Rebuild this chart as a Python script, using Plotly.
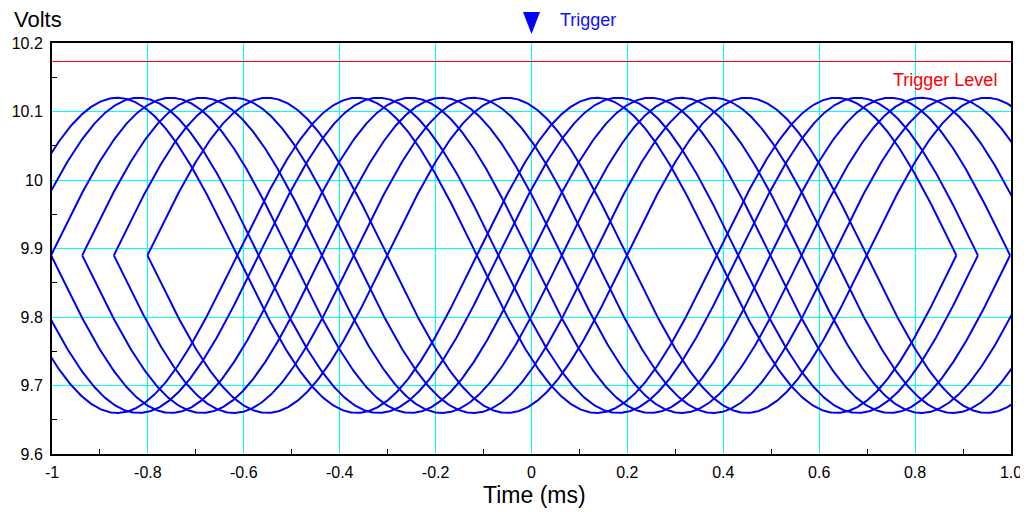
import numpy as np
import plotly.graph_objects as go

# ---- values ----
# start time (ms) of each sweep: every sweep starts on a zero crossing of the signal
sweep_start_ms = [-1.114, -1.069, -1.002, -0.937, -0.871, -0.801]
sweep_length_ms = 2.0
signal_period_ms = 1.0
signal_center_v = 9.89
signal_amplitude_v = 0.23
sweep_polarity = [1, -1]          # each sweep appears with both slopes

trigger_time_ms = 0.0
trigger_level_v = 10.173

x_tick_vals = [-1, -0.8, -0.6, -0.4, -0.2, 0, 0.2, 0.4, 0.6, 0.8, 1.0]
x_tick_text = ["-1", "-0.8", "-0.6", "-0.4", "-0.2", "0", "0.2", "0.4", "0.6", "0.8", "1.0"]
x_minor_vals = [-0.9, -0.7, -0.5, -0.3, -0.1, 0.1, 0.3, 0.5, 0.7, 0.9]
y_tick_vals = [9.6, 9.7, 9.8, 9.9, 10.0, 10.1, 10.2]
y_tick_text = ["9.6", "9.7", "9.8", "9.9", "10", "10.1", "10.2"]
y_minor_vals = [9.65, 9.75, 9.85, 9.95, 10.05, 10.15]

FONT = "Liberation Sans, Arial, Helvetica, sans-serif"
BLUE = "#0000f0"

fig = go.Figure()

for t0 in sweep_start_ms:
    t = np.linspace(t0, t0 + sweep_length_ms, 801)
    for pol in sweep_polarity:
        v = signal_center_v + pol * signal_amplitude_v * np.sin(2 * np.pi * (t - t0) / signal_period_ms)
        fig.add_trace(go.Scatter(x=t, y=v, mode="lines",
                                 line=dict(color=BLUE, width=2),
                                 showlegend=False, hoverinfo="skip"))

# trigger level line
fig.add_shape(type="line", xref="paper", x0=0, x1=1, yref="y",
              y0=trigger_level_v, y1=trigger_level_v,
              line=dict(color="#ff0000", width=1))

# trigger marker (downward triangle above the plot at trigger time)
fig.add_shape(type="path", xref="x", xsizemode="pixel", xanchor=trigger_time_ms,
              yref="paper", ysizemode="pixel", yanchor=1,
              path="M -8.5,31 L 8.5,31 L 0,9 Z",
              fillcolor="#0000ff", line=dict(width=0))

fig.add_annotation(text="Trigger", x=trigger_time_ms, xref="x", xanchor="left", xshift=26,
                   y=1, yref="paper", yanchor="middle", yshift=23, showarrow=False,
                   font=dict(family=FONT, size=18, color="#1010ff"))
fig.add_annotation(text="Trigger Level", x=1, xref="paper", xanchor="right", xshift=-12,
                   y=trigger_level_v, yref="y", yanchor="middle", yshift=-19, showarrow=False,
                   font=dict(family=FONT, size=18, color="#ff0000"))
fig.add_annotation(text="Volts", x=0, xref="paper", xanchor="left", xshift=-40,
                   y=1, yref="paper", yanchor="middle", yshift=24, showarrow=False,
                   font=dict(family=FONT, size=22, color="#000000"))
fig.add_annotation(text="Time (ms)", x=0.5, xref="paper", xanchor="center", xshift=3,
                   y=0, yref="paper", yanchor="middle", yshift=-41, showarrow=False,
                   font=dict(family=FONT, size=23, color="#000000"))

axis_common = dict(showline=True, linecolor="#000000", linewidth=2, mirror=True,
                   showgrid=True, gridcolor="#00ffff", gridwidth=1, zeroline=False,
                   ticks="", ticklabeloverflow="allow", automargin=False,
                   tickfont=dict(family=FONT, size=16, color="#000000"))

fig.update_xaxes(range=[-1, 1], tickmode="array", tickvals=x_tick_vals, ticktext=x_tick_text,
                 ticklabelstandoff=3,
                 minor=dict(tickmode="array", tickvals=x_minor_vals, ticks="inside",
                            ticklen=5, tickcolor="#000000", tickwidth=1, showgrid=False),
                 **axis_common)
fig.update_yaxes(range=[9.6, 10.2], tickmode="array", tickvals=y_tick_vals, ticktext=y_tick_text,
                 ticklabelstandoff=4,
                 minor=dict(tickmode="array", tickvals=y_minor_vals, ticks="inside",
                            ticklen=5, tickcolor="#000000", tickwidth=1, showgrid=False),
                 **axis_common)

# the page body adds an 8 px margin; sizes below compensate so the plot area
# lands at the same place as in the reference
fig.update_layout(width=1020, height=504, autosize=False,
                  margin=dict(l=44, r=17, t=35, b=58, autoexpand=False),
                  paper_bgcolor="#ffffff", plot_bgcolor="#ffffff",
                  font=dict(family=FONT))

fig.write_html("out.html")
